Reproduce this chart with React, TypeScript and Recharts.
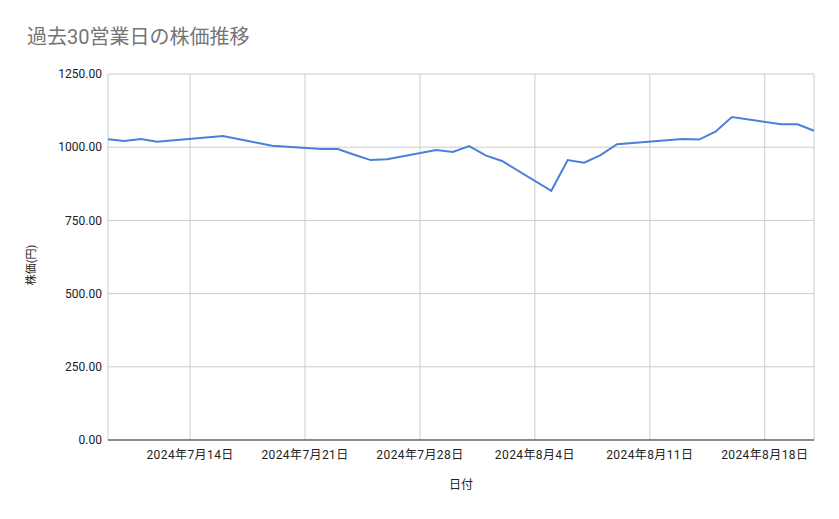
import React from "react";
import {
  LineChart,
  Line,
  XAxis,
  YAxis,
  CartesianGrid,
  Label,
} from "recharts";

// 営業日 (2024)
const tradingDays = [
  "2024-07-09", "2024-07-10", "2024-07-11", "2024-07-12",
  "2024-07-16", "2024-07-17", "2024-07-18", "2024-07-19",
  "2024-07-22", "2024-07-23", "2024-07-24", "2024-07-25", "2024-07-26",
  "2024-07-29", "2024-07-30", "2024-07-31", "2024-08-01", "2024-08-02",
  "2024-08-05", "2024-08-06", "2024-08-07", "2024-08-08", "2024-08-09",
  "2024-08-13", "2024-08-14", "2024-08-15", "2024-08-16",
  "2024-08-19", "2024-08-20", "2024-08-21",
];

// 終値 (円)
const closePrices = [
  1027, 1021, 1028, 1019,
  1038, 1027, 1016, 1005,
  994, 994, 974, 956, 959,
  990, 984, 1004, 972, 953,
  851, 956, 947, 973, 1010,
  1028, 1026, 1053, 1103,
  1078, 1078, 1056,
];

const xTickDates = [
  "2024-07-14", "2024-07-21", "2024-07-28",
  "2024-08-04", "2024-08-11", "2024-08-18",
];

const yTicks = [0, 250, 500, 750, 1000, 1250];

const DAY = 86400000;
const toDay = (s: string) => {
  const [y, m, d] = s.split("-").map(Number);
  return Date.UTC(y, m - 1, d) / DAY;
};
const fmtDay = (v: number) => {
  const d = new Date(v * DAY);
  return `${d.getUTCFullYear()}年${d.getUTCMonth() + 1}月${d.getUTCDate()}日`;
};

const data = tradingDays.map((s, i) => ({ day: toDay(s), price: closePrices[i] }));
const xTicks = xTickDates.map(toDay);

const FONT = "Roboto, 'Noto Sans CJK JP', sans-serif";

export default function App() {
  return (
    <div style={{ position: "absolute", left: 0, top: 0, width: 839, height: 519, background: "#fff", fontFamily: FONT }}>
      <div
        style={{
          position: "absolute",
          left: 27,
          top: 27,
          fontSize: 20,
          lineHeight: "20px",
          color: "#757575",
          whiteSpace: "nowrap",
        }}
      >
        過去30営業日の株価推移
      </div>
      <LineChart
        width={839}
        height={519}
        data={data}
        margin={{ top: 74, right: 25, left: 0, bottom: 0 }}
      >
        <CartesianGrid stroke="#cccccc" />
        <XAxis
          dataKey="day"
          type="number"
          domain={[toDay(tradingDays[0]), toDay(tradingDays[tradingDays.length - 1])]}
          ticks={xTicks}
          tickFormatter={fmtDay}
          height={79}
          tickLine={false}
          tickSize={0}
          tickMargin={10}
          axisLine={{ stroke: "#333333" }}
          tick={{ fill: "#222222", fontSize: 12, fontFamily: FONT, letterSpacing: 0.4 }}
        >
          <Label
            content={({ viewBox }: any) => (
              <text
                x={viewBox.x + viewBox.width / 2}
                y={viewBox.y + 45}
                textAnchor="middle"
                dominantBaseline="central"
                fontSize={12}
                fill="#222222"
                fontFamily={FONT}
              >
                日付
              </text>
            )}
          />
        </XAxis>
        <YAxis
          type="number"
          domain={[0, 1250]}
          ticks={yTicks}
          tickFormatter={(v: number) => v.toFixed(2)}
          width={108}
          axisLine={false}
          tickLine={false}
          tickSize={0}
          tickMargin={6}
          tick={{ fill: "#222222", fontSize: 12, fontFamily: FONT }}
        >
          <Label
            content={({ viewBox }: any) => {
              const cx = viewBox.x + 31;
              const cy = 265;
              return (
                <text
                  x={cx}
                  y={cy}
                  transform={`rotate(-90 ${cx} ${cy})`}
                  textAnchor="middle"
                  dominantBaseline="central"
                  fontSize={11}
                  fill="#222222"
                  fontFamily={FONT}
                >
                  株価(円)
                </text>
              );
            }}
          />
        </YAxis>
        <Line
          type="linear"
          dataKey="price"
          stroke="#4a80d9"
          strokeWidth={2}
          dot={false}
          isAnimationActive={false}
        />
      </LineChart>
    </div>
  );
}
